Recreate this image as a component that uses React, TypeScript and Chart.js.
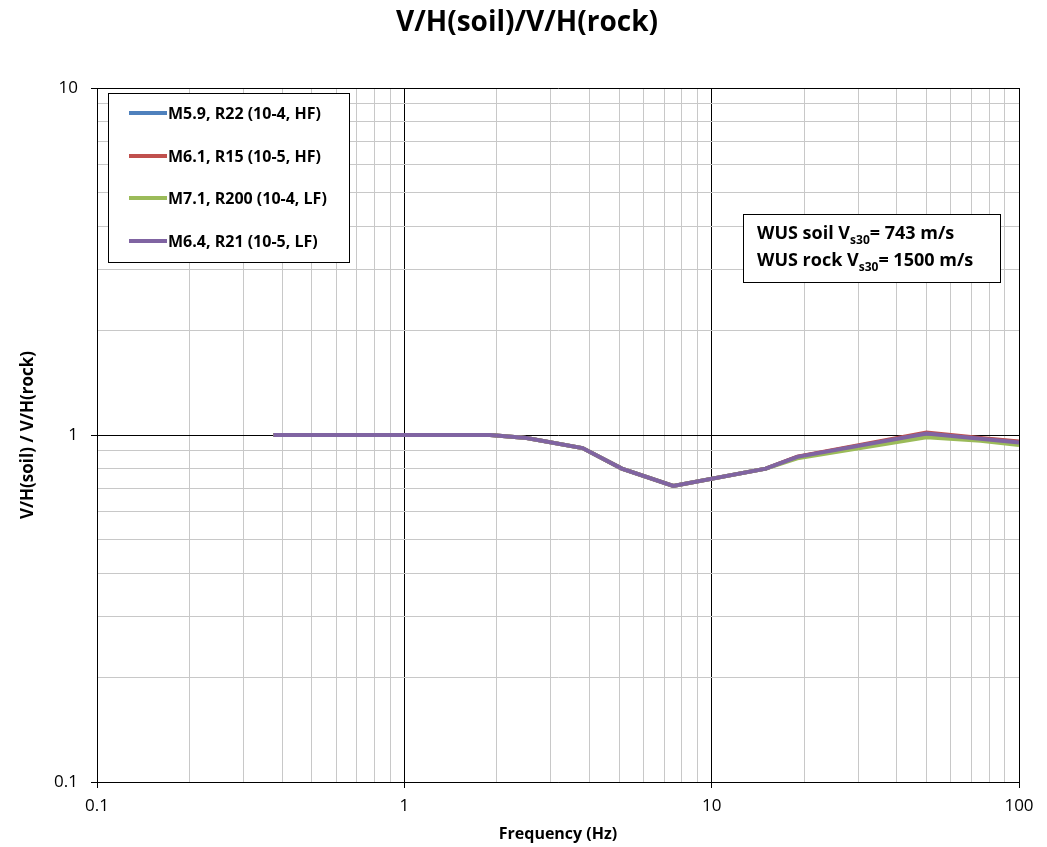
import React, { useEffect, useRef } from "react";
import { Chart, registerables } from "chart.js";

Chart.register(...registerables);

const frequencies = [0.375, 1.9, 2.5, 3.8, 5.1, 7.5, 15, 19, 50, 75, 100];
const seriesNames = [
  "M5.9, R22 (10-4, HF)",
  "M6.1, R15 (10-5, HF)",
  "M7.1, R200 (10-4, LF)",
  "M6.4, R21 (10-5, LF)",
];
const blueValues = [1, 1, 0.98, 0.917, 0.8, 0.713, 0.8, 0.865, 1.01, 0.975, 0.955];
const redValues = [1, 1, 0.98, 0.917, 0.8, 0.713, 0.8, 0.866, 1.016, 0.98, 0.957];
const greenValues = [1, 1, 0.98, 0.917, 0.8, 0.713, 0.8, 0.857, 0.985, 0.963, 0.935];
const purpleValues = [1, 1, 0.98, 0.917, 0.8, 0.713, 0.8, 0.865, 1.01, 0.975, 0.952];
const seriesColors = ["#4F81BD", "#C0504D", "#9BBB59", "#8064A2"];

const xDecades = [0.1, 1, 10];
const xMajorTicks = [0.1, 1, 10, 100];
const yDecades = [0.1, 1];
const yMajorTicks = [0.1, 1, 10];
const minorMultipliers = [1, 2, 3, 4, 5, 6, 7, 8, 9];

const FONT = "'Open Sans', 'Noto Sans', sans-serif";

function buildTicks(decades: number[], last: number) {
  const out: number[] = [];
  decades.forEach((d) => minorMultipliers.forEach((m) => out.push(d * m)));
  out.push(last);
  return out;
}

function isMajor(v: number) {
  const l = Math.log10(v);
  return Math.abs(l - Math.round(l)) < 1e-9;
}

const overlayPlugin = {
  id: "overlay",
  afterDraw(chart: any) {
    const ctx = chart.ctx;
    const area = chart.chartArea;
    ctx.save();
    // title
    ctx.fillStyle = "#000";
    ctx.textAlign = "center";
    ctx.textBaseline = "alphabetic";
    ctx.font = `bold 28px ${FONT}`;
    ctx.fillText("V/H(soil)/V/H(rock)", 527, 31);
    // x title
    ctx.font = `bold 16px ${FONT}`;
    ctx.fillText("Frequency (Hz)", (area.left + area.right) / 2, 839);
    // y title
    ctx.save();
    ctx.translate(28, (area.top + area.bottom) / 2);
    ctx.rotate(-Math.PI / 2);
    ctx.textBaseline = "middle";
    ctx.font = `bold 17px ${FONT}`;
    ctx.fillText("V/H(soil) / V/H(rock)", 0, 0);
    ctx.restore();

    // legend box
    ctx.fillStyle = "#fff";
    ctx.fillRect(108, 93, 241, 169);
    ctx.strokeStyle = "#000";
    ctx.lineWidth = 1;
    ctx.strokeRect(108.5, 93.5, 241, 169);
    const rows = [113, 156, 198, 241];
    ctx.textAlign = "left";
    ctx.textBaseline = "alphabetic";
    ctx.font = `bold 16px ${FONT}`;
    seriesNames.forEach((name, i) => {
      ctx.strokeStyle = seriesColors[i];
      ctx.lineWidth = 4;
      ctx.beginPath();
      ctx.moveTo(129, rows[i]);
      ctx.lineTo(167, rows[i]);
      ctx.stroke();
      ctx.fillStyle = "#000";
      ctx.fillText(name, 168, rows[i] + 6);
    });

    // text box
    ctx.fillStyle = "#fff";
    ctx.fillRect(743, 214, 257, 68);
    ctx.strokeStyle = "#000";
    ctx.lineWidth = 1;
    ctx.strokeRect(743.5, 214.5, 257, 68);
    const lines = [
      ["WUS soil V", "s30", "= 743 m/s"],
      ["WUS rock V", "s30", "= 1500 m/s"],
    ];
    const ys = [239, 266];
    lines.forEach((parts, i) => {
      let x = 757;
      ctx.fillStyle = "#000";
      ctx.font = `bold 18px ${FONT}`;
      ctx.fillText(parts[0], x, ys[i]);
      x += ctx.measureText(parts[0]).width;
      ctx.font = `bold 12px ${FONT}`;
      ctx.fillText(parts[1], x, ys[i] + 5);
      x += ctx.measureText(parts[1]).width;
      ctx.font = `bold 18px ${FONT}`;
      ctx.fillText(parts[2], x, ys[i]);
    });
    ctx.restore();
  },
};

export default function App() {
  const ref = useRef<HTMLCanvasElement>(null);
  useEffect(() => {
    if (!ref.current) return;
    const mk = (vals: number[]) => frequencies.map((f, i) => ({ x: f, y: vals[i] }));
    const all = [blueValues, redValues, greenValues, purpleValues];
    const orders = [3, 2, 1, 0];
    const chart = new Chart(ref.current, {
      type: "line",
      data: {
        datasets: all.map((v, i) => ({
          label: seriesNames[i],
          data: mk(v),
          borderColor: seriesColors[i],
          backgroundColor: seriesColors[i],
          borderWidth: 4,
          pointRadius: 0,
          tension: 0,
          order: orders[i],
        })),
      },
      options: {
        animation: false,
        responsive: false,
        layout: { padding: { top: 88, right: 28, left: 0, bottom: 0 } },
        plugins: { legend: { display: false }, tooltip: { enabled: false }, title: { display: false } },
        scales: {
          x: {
            type: "logarithmic",
            min: 0.1,
            max: 100,
            afterBuildTicks: (s: any) => {
              s.ticks = buildTicks(xDecades, 100).map((v) => ({ value: v }));
            },
            afterFit: (s: any) => {
              s.height = 65;
            },
            ticks: {
              autoSkip: false,
              maxRotation: 0,
              padding: 8,
              color: "#000",
              font: { family: FONT, size: 17 },
              callback: (v: any) => (xMajorTicks.some((m) => Math.abs(m - v) < 1e-9) ? String(v) : ""),
            },
            grid: {
              color: (c: any) => (c.tick && isMajor(c.tick.value) ? "#000" : "#c8c8c8"),
              tickColor: (c: any) => (c.tick && isMajor(c.tick.value) ? "#000" : "rgba(0,0,0,0)"),
              tickLength: 6,
              lineWidth: 1,
            },
            border: { color: "#000", width: 1 },
          },
          y: {
            type: "logarithmic",
            min: 0.1,
            max: 10,
            afterBuildTicks: (s: any) => {
              s.ticks = buildTicks(yDecades, 10).map((v) => ({ value: v }));
            },
            afterFit: (s: any) => {
              s.width = 97;
            },
            ticks: {
              autoSkip: false,
              padding: 13,
              color: "#000",
              font: { family: FONT, size: 17 },
              callback: (v: any) => (yMajorTicks.some((m) => Math.abs(m - v) < 1e-9) ? String(v) : ""),
            },
            grid: {
              color: (c: any) => (c.tick && isMajor(c.tick.value) ? "#000" : "#c8c8c8"),
              tickColor: (c: any) => (c.tick && isMajor(c.tick.value) ? "#000" : "rgba(0,0,0,0)"),
              tickLength: 6,
              lineWidth: 1,
            },
            border: { color: "#000", width: 1 },
          },
        },
      },
      plugins: [overlayPlugin],
    } as any);
    return () => chart.destroy();
  }, []);
  return (
    <div style={{ position: "absolute", left: 0, top: 0, width: 1047, height: 847, background: "#fff" }}>
      <canvas ref={ref} width={1047} height={847} style={{ width: 1047, height: 847, display: "block" }} />
    </div>
  );
}
